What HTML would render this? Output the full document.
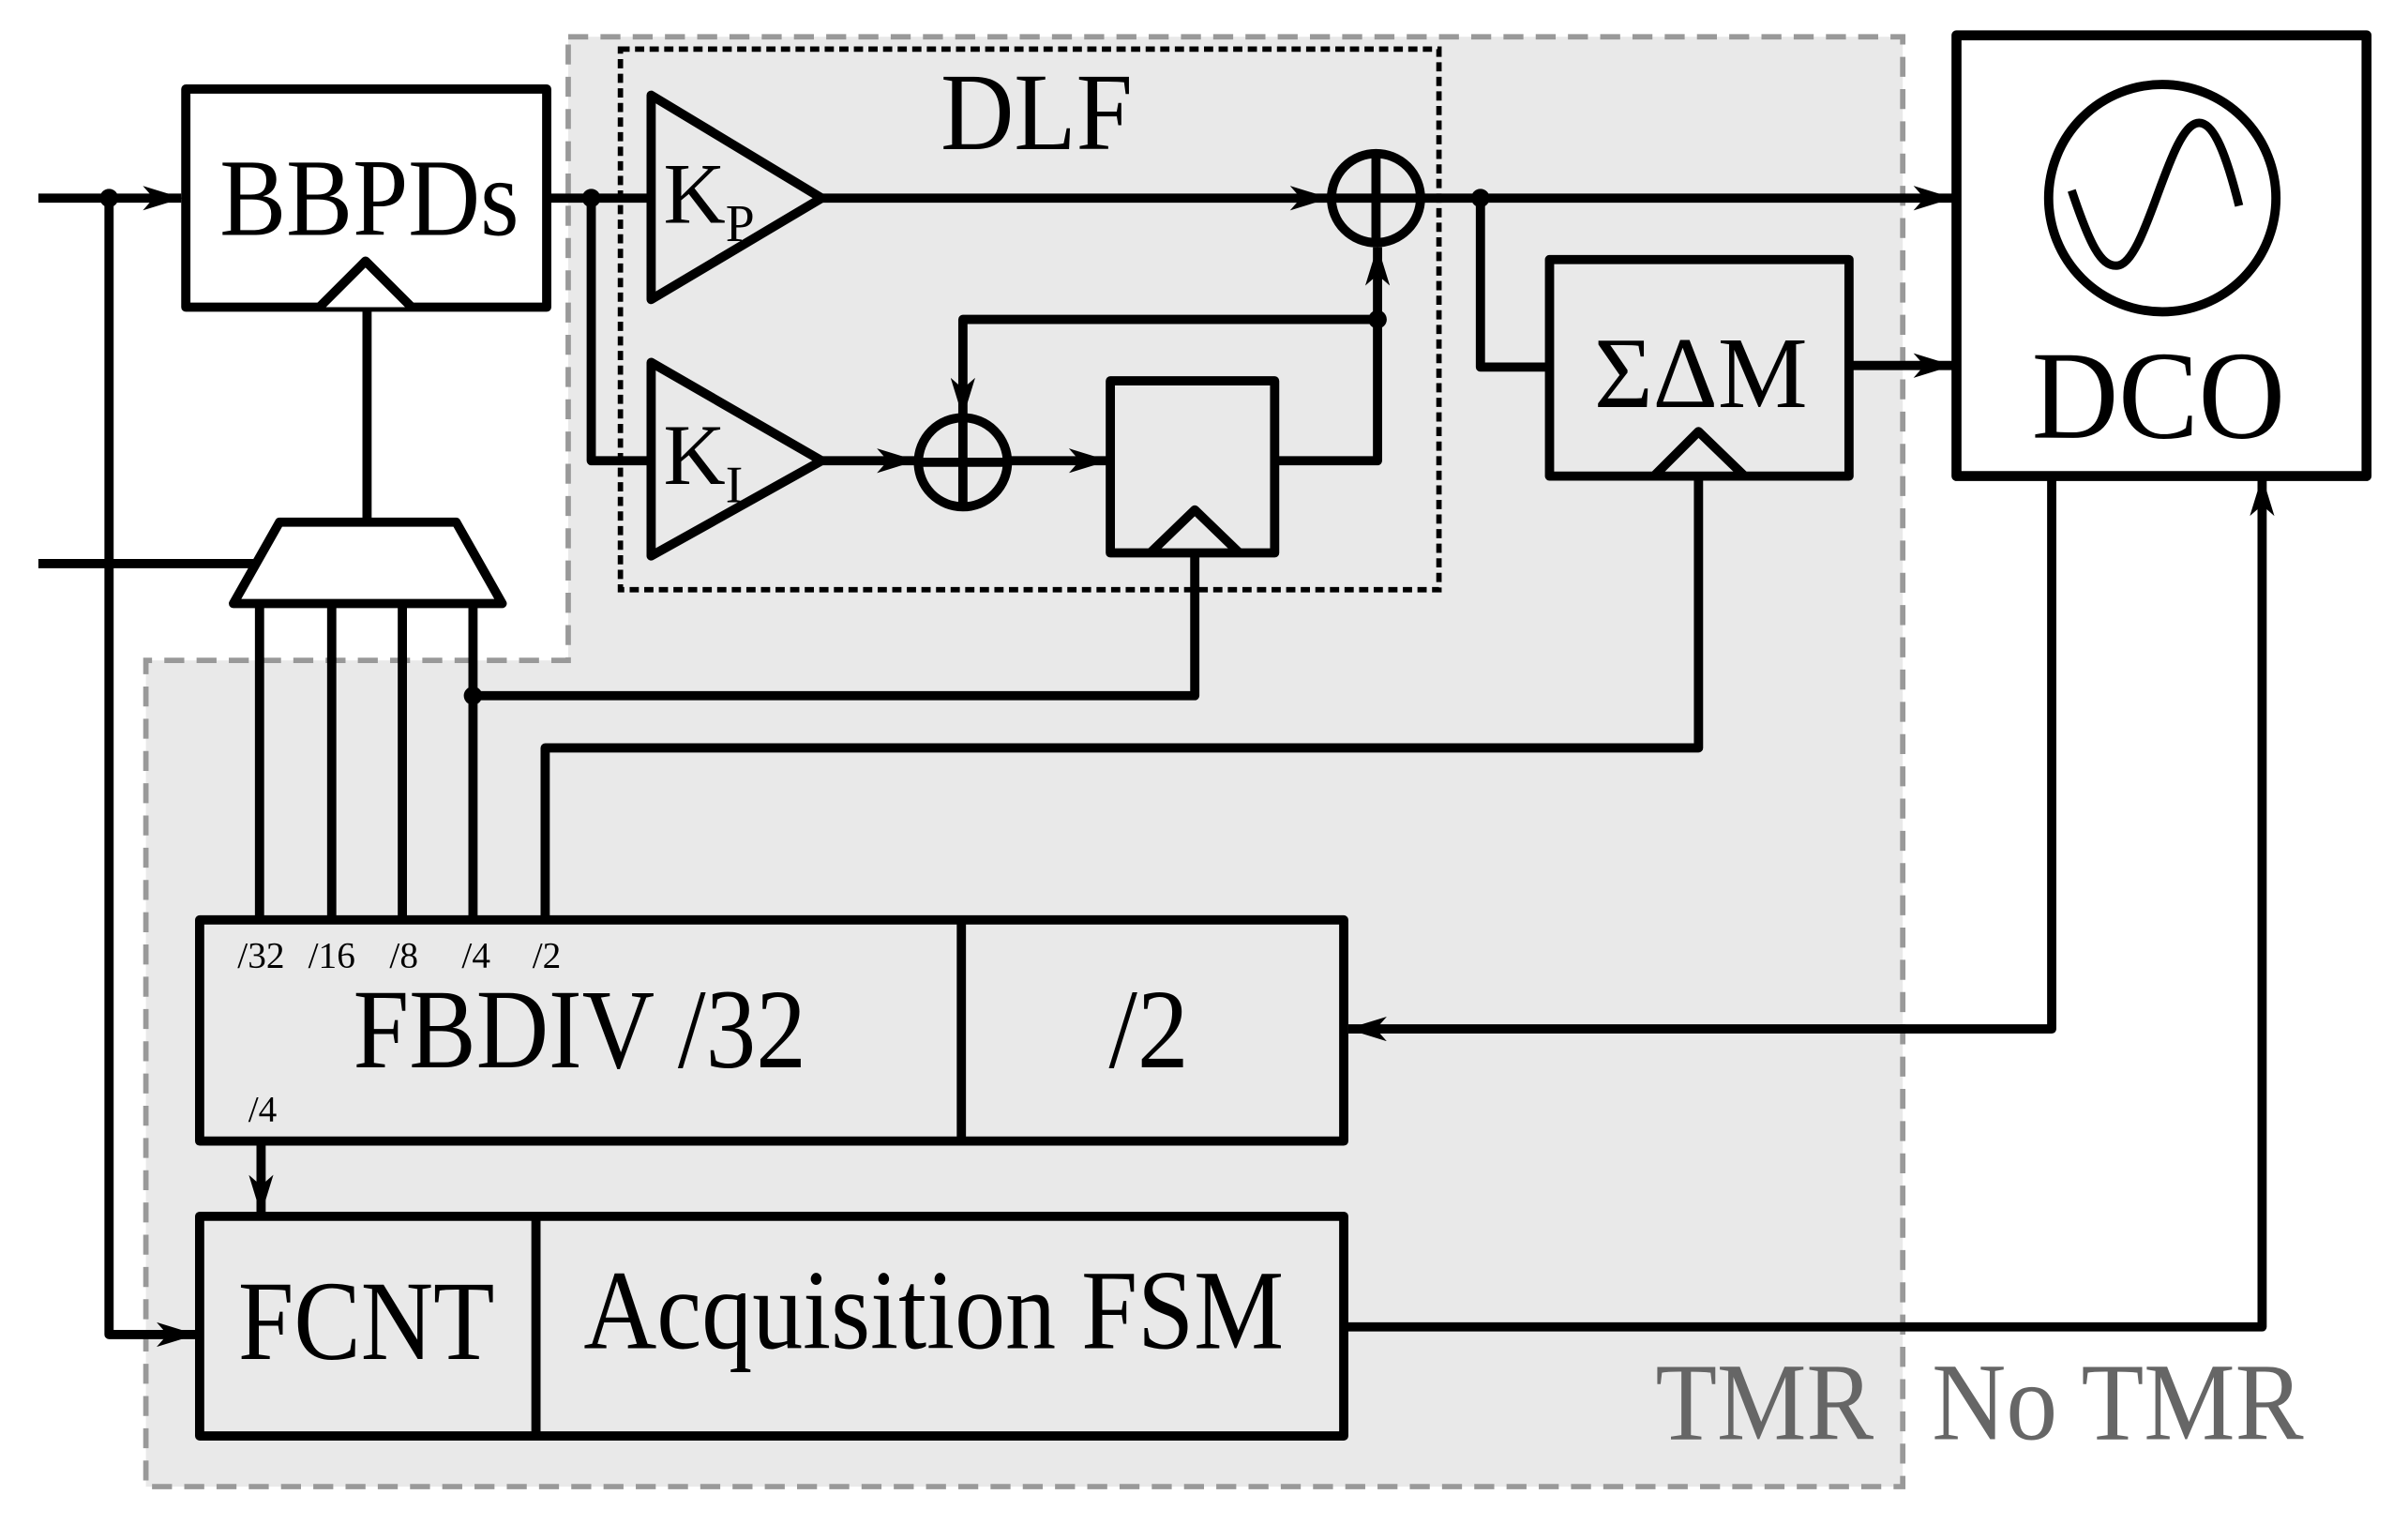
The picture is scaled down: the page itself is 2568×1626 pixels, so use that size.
<!DOCTYPE html>
<html><head><meta charset="utf-8"><style>html,body{margin:0;padding:0;background:#fff}svg{display:block}text{font-family:"Liberation Serif",serif}</style></head><body>
<svg width="2568" height="1626" viewBox="0 0 1568 993" preserveAspectRatio="none" xmlns="http://www.w3.org/2000/svg">
<defs>
<marker id="a" viewBox="0 0 26 16" refX="25" refY="8" markerWidth="26" markerHeight="16" markerUnits="userSpaceOnUse" orient="auto"><path d="M0,0 L26,8 L0,16 L7,8 Z" fill="#000"/></marker>
</defs>
<path d="M370,24 L1239,24 L1239,968 L95,968 L95,430 L370,430 Z" fill="#e9e9e9" stroke="#999" stroke-width="3.5" stroke-dasharray="13,8"/>
<rect x="404" y="32" width="533" height="352" fill="none" stroke="#000" stroke-width="3.5" stroke-dasharray="6,3.5"/>
<text x="675" y="97" font-size="72" text-anchor="middle" textLength="125" lengthAdjust="spacingAndGlyphs">DLF</text>
<g stroke="#000" stroke-width="6" fill="none" stroke-linejoin="round">
<rect x="121" y="58" width="235" height="142" fill="#fff"/>
<path d="M208,200 L238,170 L268,200" fill="#fff"/>
<path d="M25,129 L118,129" marker-end="url(#a)"/>
<path d="M71,129 L71,869 L127,869" marker-end="url(#a)"/>
<path d="M25,367 L165,367"/>
<path d="M182,340 L297,340 L327,393 L152,393 Z" fill="#fff"/>
<path d="M239,200 L239,340"/>
<path d="M169,393 L169,599 M216,393 L216,599 M262,393 L262,599 M308,393 L308,599"/>
<path d="M308,453 L778,453 L778,360"/>
<path d="M355,599 L355,487 L1106,487 L1106,311"/>
<path d="M356,129 L424,129"/>
<path d="M385,129 L385,300 L424,300"/>
<path d="M424,62 L535,129 L424,195 Z"/>
<path d="M424,236 L535,300 L424,362 Z"/>
<path d="M535,129 L865,129" marker-end="url(#a)"/>
<path d="M535,300 L596,300" marker-end="url(#a)"/>
<circle cx="627" cy="301" r="29"/>
<path d="M598,301 L656,301 M627,272 L627,330"/>
<path d="M656,300 L721,300" marker-end="url(#a)"/>
<rect x="723" y="248" width="107" height="112"/>
<path d="M749,360 L778,332 L807,360"/>
<path d="M830,300 L897,300 L897,161" marker-end="url(#a)"/>
<path d="M897,208 L627,208 L627,271" marker-end="url(#a)"/>
<circle cx="896" cy="129" r="29"/>
<path d="M867,129 L925,129 M896,100 L896,158"/>
<path d="M925,129 L1271,129" marker-end="url(#a)"/>
<path d="M964,129 L964,239 L1008,239"/>
<rect x="1009" y="169" width="195" height="141"/>
<path d="M1077,310 L1106,281 L1136,310"/>
<path d="M1204,238 L1271,238" marker-end="url(#a)"/>
<rect x="1274" y="23" width="267" height="287" fill="#fff" stroke-width="6.5"/>
<ellipse cx="1408" cy="129" rx="74" ry="74"/>
<path d="M1349,124 C1361,160 1368,173 1378,173 C1398,173 1412,80 1432,80 C1442,80 1450,102 1458,134" stroke-width="5.5"/>
<path d="M1336,310 L1336,670 L878,670" marker-end="url(#a)"/>
<path d="M877,864 L1473,864 L1473,311" marker-end="url(#a)"/>
<rect x="130" y="599" width="745" height="144"/>
<path d="M626,599 L626,743"/>
<path d="M170,743 L170,790" marker-end="url(#a)"/>
<rect x="130" y="792" width="745" height="143"/>
<path d="M349,792 L349,935"/>
</g>
<g fill="#000">
<circle cx="71" cy="129" r="6"/><circle cx="385" cy="129" r="6"/><circle cx="308" cy="453" r="6"/><circle cx="897" cy="208" r="6"/><circle cx="964" cy="129" r="6"/>
</g>
<text x="143" y="153" font-size="72" textLength="195" lengthAdjust="spacingAndGlyphs">BBPDs</text>
<text x="432" y="145" font-size="56">K<tspan font-size="34" dy="12">P</tspan></text>
<text x="432" y="315" font-size="56">K<tspan font-size="34" dy="12">I</tspan></text>
<text x="1038" y="265" font-size="66" textLength="139" lengthAdjust="spacingAndGlyphs">ΣΔM</text>
<text x="1323" y="285" font-size="82" textLength="165" lengthAdjust="spacingAndGlyphs">DCO</text>
<g font-size="24" text-anchor="middle">
<text x="170" y="630">/32</text><text x="216" y="630">/16</text><text x="263" y="630">/8</text><text x="310" y="630">/4</text><text x="356" y="630">/2</text><text x="171" y="730">/4</text>
</g>
<text x="230" y="695" font-size="74" textLength="295" lengthAdjust="spacingAndGlyphs">FBDIV /32</text>
<text x="722" y="695" font-size="74" textLength="52" lengthAdjust="spacingAndGlyphs">/2</text>
<text x="155" y="885" font-size="74" textLength="167" lengthAdjust="spacingAndGlyphs">FCNT</text>
<text x="380" y="878" font-size="74" textLength="456" lengthAdjust="spacingAndGlyphs">Acquisition FSM</text>
<text x="1078" y="937" font-size="72" fill="#666" textLength="142" lengthAdjust="spacingAndGlyphs">TMR</text>
<text x="1258" y="937" font-size="72" fill="#666" textLength="242" lengthAdjust="spacingAndGlyphs">No TMR</text>
</svg>
</body></html>
